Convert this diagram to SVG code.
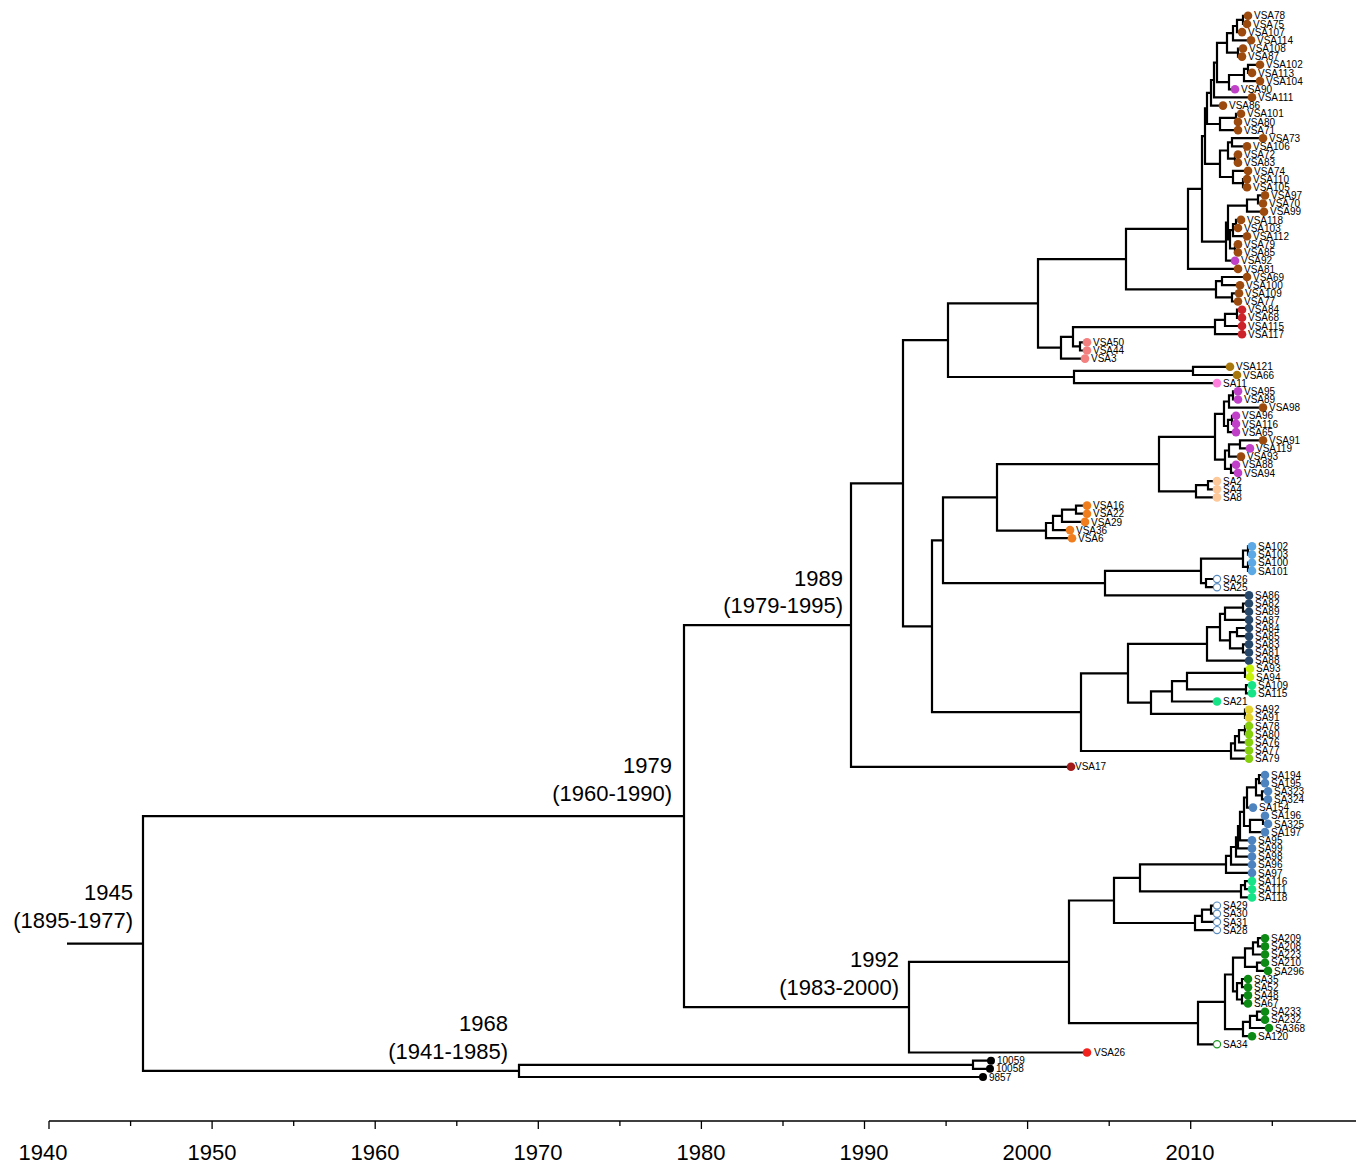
<svg xmlns="http://www.w3.org/2000/svg" width="1358" height="1163" viewBox="0 0 1358 1163">
<style>
.b{fill:none;stroke:#000;stroke-width:2.2;stroke-linejoin:miter}
.ax{fill:none;stroke:#000;stroke-width:1.3}
.tip text{font-family:"Liberation Sans",Arial,sans-serif;font-size:10px;fill:#000}
.nl{font-family:"Liberation Sans",Arial,sans-serif;font-size:22px;fill:#000;text-anchor:end}
.yl{font-family:"Liberation Sans",Arial,sans-serif;font-size:22px;fill:#000;text-anchor:middle}
.br{fill:#9c4a0e}.pu{fill:#c040c8}.rd{fill:#cc2229}.sa{fill:#f47f7f}.gd{fill:#a8780c}.pk{fill:#ff7fdc}
.pe{fill:#fdc89a}.or{fill:#f07e1e}.lb{fill:#5da9e5}.ob{fill:#fff;stroke:#5a8cc0;stroke-width:1.2}
.nv{fill:#27476b}.ly{fill:#c6f20a}.gc{fill:#16e486}.yw{fill:#e2d12e}.lg{fill:#86cf0c}.dr{fill:#a31a1a}
.sb{fill:#4d84bf}.dg{fill:#0c8a14}.og{fill:#fff;stroke:#1e9a24;stroke-width:1.2}.rr{fill:#f2231f}.bk{fill:#000}
</style>
<g id="connectors">
<path class="b" d="M67 943.6H143"/>
<path class="b" d="M1248 15.8H1243V24H1247"/>
<path class="b" d="M1243 19.9H1237V32.1H1242"/>
<path class="b" d="M1237 26H1233V40.3H1251"/>
<path class="b" d="M1243 48.5H1238V56.6H1242"/>
<path class="b" d="M1233 33.2H1227V52.6H1238"/>
<path class="b" d="M1260 64.8H1248V72.9H1252"/>
<path class="b" d="M1248 68.9H1244V81.1H1260"/>
<path class="b" d="M1244 75H1229V89.3H1235"/>
<path class="b" d="M1227 42.9H1217V82.2H1229"/>
<path class="b" d="M1217 62.6H1214V97.4H1252"/>
<path class="b" d="M1214 80H1211V105.6H1223"/>
<path class="b" d="M1241 113.8H1236V121.9H1238"/>
<path class="b" d="M1236 117.9H1220V130.1H1238"/>
<path class="b" d="M1211 92.8H1207V124H1220"/>
<path class="b" d="M1263 138.2H1232V146.4H1247"/>
<path class="b" d="M1238 154.6H1235V162.7H1238"/>
<path class="b" d="M1232 142.3H1228V158.7H1235"/>
<path class="b" d="M1247 179.1H1243V187.2H1247"/>
<path class="b" d="M1248 170.9H1233V183.2H1243"/>
<path class="b" d="M1228 150.5H1220V177H1233"/>
<path class="b" d="M1207 108.4H1205V163.8H1220"/>
<path class="b" d="M1265 195.4H1258V203.5H1263"/>
<path class="b" d="M1258 199.5H1247V211.7H1264"/>
<path class="b" d="M1241 219.9H1236V228H1238"/>
<path class="b" d="M1236 224H1233V236.2H1247"/>
<path class="b" d="M1238 244.4H1235V252.5H1238"/>
<path class="b" d="M1233 230.1H1230V248.5H1235"/>
<path class="b" d="M1247 205.6H1228V239.3H1230"/>
<path class="b" d="M1228 222.5H1226V260.7H1235"/>
<path class="b" d="M1205 136.1H1202V241.6H1226"/>
<path class="b" d="M1202 188.9H1188V268.9H1238"/>
<path class="b" d="M1247 277H1222V285.2H1240"/>
<path class="b" d="M1239 293.3H1232V301.5H1238"/>
<path class="b" d="M1222 281.1H1216V297.4H1232"/>
<path class="b" d="M1188 228.9H1126V289.3H1216"/>
<path class="b" d="M1242 309.7H1237V317.8H1242"/>
<path class="b" d="M1237 313.8H1225V326H1242"/>
<path class="b" d="M1225 319.9H1215V334.2H1242"/>
<path class="b" d="M1087 342.3H1080V350.5H1087"/>
<path class="b" d="M1215 327.1H1073V346.4H1080"/>
<path class="b" d="M1073 336.8H1061V358.6H1085"/>
<path class="b" d="M1126 259.1H1038V347.7H1061"/>
<path class="b" d="M1230 366.8H1193V375H1237"/>
<path class="b" d="M1193 370.9H1074V383.1H1217"/>
<path class="b" d="M1038 303.4H948V377H1074"/>
<path class="b" d="M1238 391.3H1233V399.5H1238"/>
<path class="b" d="M1233 395.4H1229V407.6H1263"/>
<path class="b" d="M1236 415.8H1232V423.9H1236"/>
<path class="b" d="M1232 419.9H1228V432.1H1236"/>
<path class="b" d="M1229 401.5H1224V426H1228"/>
<path class="b" d="M1263 440.3H1240V448.4H1250"/>
<path class="b" d="M1240 444.4H1229V456.6H1241"/>
<path class="b" d="M1236 464.8H1231V472.9H1238"/>
<path class="b" d="M1229 450.5H1225V468.9H1231"/>
<path class="b" d="M1224 413.8H1215V459.7H1225"/>
<path class="b" d="M1217 481.1H1208V489.3H1217"/>
<path class="b" d="M1208 485.2H1196V497.4H1217"/>
<path class="b" d="M1215 436.8H1159V491.3H1196"/>
<path class="b" d="M1087 505.6H1076V513.7H1087"/>
<path class="b" d="M1076 509.7H1062V521.9H1085"/>
<path class="b" d="M1062 515.8H1053V530.1H1070"/>
<path class="b" d="M1053 523H1046V538.2H1072"/>
<path class="b" d="M1159 464.1H997V530.6H1046"/>
<path class="b" d="M1252 546.4H1248V554.6H1252"/>
<path class="b" d="M1252 562.7H1248V570.9H1252"/>
<path class="b" d="M1248 550.5H1243V566.8H1248"/>
<path class="b" d="M1217 579H1206V587.2H1217"/>
<path class="b" d="M1243 558.7H1201V583.1H1206"/>
<path class="b" d="M1201 570.9H1105V595.4H1249"/>
<path class="b" d="M997 497.4H943V583.2H1105"/>
<path class="b" d="M1249 603.5H1243V611.7H1249"/>
<path class="b" d="M1243 607.6H1225V619.9H1249"/>
<path class="b" d="M1249 628H1237V636.2H1249"/>
<path class="b" d="M1249 644.3H1243V652.5H1249"/>
<path class="b" d="M1237 632.1H1230V648.4H1243"/>
<path class="b" d="M1225 613.8H1220V640.3H1230"/>
<path class="b" d="M1220 627.1H1207V660.7H1249"/>
<path class="b" d="M1250 668.8H1245V677H1250"/>
<path class="b" d="M1252 685.2H1246V693.3H1252"/>
<path class="b" d="M1245 672.9H1187V689.3H1246"/>
<path class="b" d="M1187 681.1H1172V701.5H1217"/>
<path class="b" d="M1249 709.7H1245V717.8H1249"/>
<path class="b" d="M1172 691.3H1151V713.8H1245"/>
<path class="b" d="M1207 643.9H1128V702.6H1151"/>
<path class="b" d="M1249 726H1245V734.1H1249"/>
<path class="b" d="M1245 730.1H1239V742.3H1249"/>
<path class="b" d="M1239 736.2H1235V750.5H1249"/>
<path class="b" d="M1235 743.4H1231V758.6H1249"/>
<path class="b" d="M1128 673.3H1081V751H1231"/>
<path class="b" d="M943 540.3H932V712.2H1081"/>
<path class="b" d="M948 340.2H903V626.3H932"/>
<path class="b" d="M903 483.3H851V766.8H1071"/>
<path class="b" d="M1265 775H1259V783.1H1265"/>
<path class="b" d="M1268 791.3H1262V799.4H1268"/>
<path class="b" d="M1259 779.1H1256V795.4H1262"/>
<path class="b" d="M1256 787.3H1247V807.6H1253"/>
<path class="b" d="M1265 815.8H1263V823.9H1268"/>
<path class="b" d="M1263 819.9H1250V832.1H1265"/>
<path class="b" d="M1247 797.5H1244V826H1250"/>
<path class="b" d="M1244 811.8H1240V840.3H1252"/>
<path class="b" d="M1240 826.1H1238V848.4H1252"/>
<path class="b" d="M1238 837.3H1236V856.6H1252"/>
<path class="b" d="M1236 847H1231V864.7H1252"/>
<path class="b" d="M1231 855.9H1226V872.9H1252"/>
<path class="b" d="M1252 881.1H1245V889.2H1252"/>
<path class="b" d="M1245 885.2H1241V897.4H1252"/>
<path class="b" d="M1226 864.4H1140V891.3H1241"/>
<path class="b" d="M1217 905.6H1211V913.7H1217"/>
<path class="b" d="M1211 909.7H1202V921.9H1217"/>
<path class="b" d="M1202 915.8H1195V930.1H1217"/>
<path class="b" d="M1140 877.9H1114V923H1195"/>
<path class="b" d="M1265 938.2H1258V946.4H1265"/>
<path class="b" d="M1258 942.3H1253V954.5H1265"/>
<path class="b" d="M1265 962.7H1257V970.9H1268"/>
<path class="b" d="M1253 948.4H1245V966.8H1257"/>
<path class="b" d="M1248 979H1242V987.2H1248"/>
<path class="b" d="M1248 995.4H1242V1003.5H1248"/>
<path class="b" d="M1242 983.1H1237V999.5H1242"/>
<path class="b" d="M1245 957.6H1233V991.3H1237"/>
<path class="b" d="M1265 1011.7H1257V1019.8H1265"/>
<path class="b" d="M1257 1015.8H1250V1028H1269"/>
<path class="b" d="M1250 1021.9H1243V1036.2H1252"/>
<path class="b" d="M1233 974.5H1225V1029.1H1243"/>
<path class="b" d="M1225 1001.8H1198V1044.3H1217"/>
<path class="b" d="M1114 900.5H1069V1023.1H1198"/>
<path class="b" d="M1069 961.8H909V1052.5H1087"/>
<path class="b" d="M851 625.1H684V1007.2H909"/>
<path class="b" d="M991 1060.7H973V1068.8H990"/>
<path class="b" d="M973 1064.8H519V1077H983"/>
<path class="b" d="M684 816.2H143V1070.9H519"/>
</g>
<g id="node-labels">
<text class="nl" x="133" y="900">1945</text><text class="nl" x="133" y="928">(1895-1977)</text>
<text class="nl" x="672" y="773">1979</text><text class="nl" x="672" y="801">(1960-1990)</text>
<text class="nl" x="843" y="586">1989</text><text class="nl" x="843" y="613">(1979-1995)</text>
<text class="nl" x="899" y="967">1992</text><text class="nl" x="899" y="995">(1983-2000)</text>
<text class="nl" x="508" y="1031">1968</text><text class="nl" x="508" y="1059">(1941-1985)</text>
</g>
<g id="axis">
<path class="ax" d="M49 1121H1356M49 1121v8M212.1 1121v8M375.2 1121v8M538.3 1121v8M701.4 1121v8M864.5 1121v8M1027.6 1121v8M1190.7 1121v8M130.6 1121v5M293.7 1121v5M456.8 1121v5M619.9 1121v5M783 1121v5M946.1 1121v5M1109.2 1121v5M1272.3 1121v5"/>
<text class="yl" x="43" y="1160">1940</text><text class="yl" x="212" y="1160">1950</text><text class="yl" x="375" y="1160">1960</text><text class="yl" x="538" y="1160">1970</text><text class="yl" x="701" y="1160">1980</text><text class="yl" x="864" y="1160">1990</text><text class="yl" x="1027" y="1160">2000</text><text class="yl" x="1190" y="1160">2010</text>
</g>
<g id="tips">
<g class="tip" id="t-VSA78"><circle class="br" cx="1248" cy="15.8" r="4.3"/><text x="1254" y="19.4">VSA78</text></g>
<g class="tip" id="t-VSA75"><circle class="br" cx="1247" cy="24" r="4.3"/><text x="1253" y="27.6">VSA75</text></g>
<g class="tip" id="t-VSA107"><circle class="br" cx="1242" cy="32.1" r="4.3"/><text x="1248" y="35.7">VSA107</text></g>
<g class="tip" id="t-VSA114"><circle class="br" cx="1251" cy="40.3" r="4.3"/><text x="1257" y="43.9">VSA114</text></g>
<g class="tip" id="t-VSA108"><circle class="br" cx="1243" cy="48.5" r="4.3"/><text x="1249" y="52.1">VSA108</text></g>
<g class="tip" id="t-VSA87"><circle class="br" cx="1242" cy="56.6" r="4.3"/><text x="1248" y="60.2">VSA87</text></g>
<g class="tip" id="t-VSA102"><circle class="br" cx="1260" cy="64.8" r="4.3"/><text x="1266" y="68.4">VSA102</text></g>
<g class="tip" id="t-VSA113"><circle class="br" cx="1252" cy="72.9" r="4.3"/><text x="1258" y="76.5">VSA113</text></g>
<g class="tip" id="t-VSA104"><circle class="br" cx="1260" cy="81.1" r="4.3"/><text x="1266" y="84.7">VSA104</text></g>
<g class="tip" id="t-VSA90"><circle class="pu" cx="1235" cy="89.3" r="4.3"/><text x="1241" y="92.9">VSA90</text></g>
<g class="tip" id="t-VSA111"><circle class="br" cx="1252" cy="97.4" r="4.3"/><text x="1258" y="101">VSA111</text></g>
<g class="tip" id="t-VSA86"><circle class="br" cx="1223" cy="105.6" r="4.3"/><text x="1229" y="109.2">VSA86</text></g>
<g class="tip" id="t-VSA101"><circle class="br" cx="1241" cy="113.8" r="4.3"/><text x="1247" y="117.4">VSA101</text></g>
<g class="tip" id="t-VSA80"><circle class="br" cx="1238" cy="121.9" r="4.3"/><text x="1244" y="125.5">VSA80</text></g>
<g class="tip" id="t-VSA71"><circle class="br" cx="1238" cy="130.1" r="4.3"/><text x="1244" y="133.7">VSA71</text></g>
<g class="tip" id="t-VSA73"><circle class="br" cx="1263" cy="138.2" r="4.3"/><text x="1269" y="141.8">VSA73</text></g>
<g class="tip" id="t-VSA106"><circle class="br" cx="1247" cy="146.4" r="4.3"/><text x="1253" y="150">VSA106</text></g>
<g class="tip" id="t-VSA72"><circle class="br" cx="1238" cy="154.6" r="4.3"/><text x="1244" y="158.2">VSA72</text></g>
<g class="tip" id="t-VSA83"><circle class="br" cx="1238" cy="162.7" r="4.3"/><text x="1244" y="166.3">VSA83</text></g>
<g class="tip" id="t-VSA74"><circle class="br" cx="1248" cy="170.9" r="4.3"/><text x="1254" y="174.5">VSA74</text></g>
<g class="tip" id="t-VSA110"><circle class="br" cx="1247" cy="179.1" r="4.3"/><text x="1253" y="182.7">VSA110</text></g>
<g class="tip" id="t-VSA105"><circle class="br" cx="1247" cy="187.2" r="4.3"/><text x="1253" y="190.8">VSA105</text></g>
<g class="tip" id="t-VSA97"><circle class="br" cx="1265" cy="195.4" r="4.3"/><text x="1271" y="199">VSA97</text></g>
<g class="tip" id="t-VSA70"><circle class="br" cx="1263" cy="203.5" r="4.3"/><text x="1269" y="207.1">VSA70</text></g>
<g class="tip" id="t-VSA99"><circle class="br" cx="1264" cy="211.7" r="4.3"/><text x="1270" y="215.3">VSA99</text></g>
<g class="tip" id="t-VSA118"><circle class="br" cx="1241" cy="219.9" r="4.3"/><text x="1247" y="223.5">VSA118</text></g>
<g class="tip" id="t-VSA103"><circle class="br" cx="1238" cy="228" r="4.3"/><text x="1244" y="231.6">VSA103</text></g>
<g class="tip" id="t-VSA112"><circle class="br" cx="1247" cy="236.2" r="4.3"/><text x="1253" y="239.8">VSA112</text></g>
<g class="tip" id="t-VSA79"><circle class="br" cx="1238" cy="244.4" r="4.3"/><text x="1244" y="248">VSA79</text></g>
<g class="tip" id="t-VSA85"><circle class="br" cx="1238" cy="252.5" r="4.3"/><text x="1244" y="256.1">VSA85</text></g>
<g class="tip" id="t-VSA92"><circle class="pu" cx="1235" cy="260.7" r="4.3"/><text x="1241" y="264.3">VSA92</text></g>
<g class="tip" id="t-VSA81"><circle class="br" cx="1238" cy="268.9" r="4.3"/><text x="1244" y="272.5">VSA81</text></g>
<g class="tip" id="t-VSA69"><circle class="br" cx="1247" cy="277" r="4.3"/><text x="1253" y="280.6">VSA69</text></g>
<g class="tip" id="t-VSA100"><circle class="br" cx="1240" cy="285.2" r="4.3"/><text x="1246" y="288.8">VSA100</text></g>
<g class="tip" id="t-VSA109"><circle class="br" cx="1239" cy="293.3" r="4.3"/><text x="1245" y="296.9">VSA109</text></g>
<g class="tip" id="t-VSA77"><circle class="br" cx="1238" cy="301.5" r="4.3"/><text x="1244" y="305.1">VSA77</text></g>
<g class="tip" id="t-VSA84"><circle class="rd" cx="1242" cy="309.7" r="4.3"/><text x="1248" y="313.3">VSA84</text></g>
<g class="tip" id="t-VSA68"><circle class="rd" cx="1242" cy="317.8" r="4.3"/><text x="1248" y="321.4">VSA68</text></g>
<g class="tip" id="t-VSA115"><circle class="rd" cx="1242" cy="326" r="4.3"/><text x="1248" y="329.6">VSA115</text></g>
<g class="tip" id="t-VSA117"><circle class="rd" cx="1242" cy="334.2" r="4.3"/><text x="1248" y="337.8">VSA117</text></g>
<g class="tip" id="t-VSA50"><circle class="sa" cx="1087" cy="342.3" r="4.3"/><text x="1093" y="345.9">VSA50</text></g>
<g class="tip" id="t-VSA44"><circle class="sa" cx="1087" cy="350.5" r="4.3"/><text x="1093" y="354.1">VSA44</text></g>
<g class="tip" id="t-VSA3"><circle class="sa" cx="1085" cy="358.6" r="4.3"/><text x="1091" y="362.2">VSA3</text></g>
<g class="tip" id="t-VSA121"><circle class="gd" cx="1230" cy="366.8" r="4.3"/><text x="1236" y="370.4">VSA121</text></g>
<g class="tip" id="t-VSA66"><circle class="gd" cx="1237" cy="375" r="4.3"/><text x="1243" y="378.6">VSA66</text></g>
<g class="tip" id="t-SA11"><circle class="pk" cx="1217" cy="383.1" r="4.3"/><text x="1223" y="386.7">SA11</text></g>
<g class="tip" id="t-VSA95"><circle class="pu" cx="1238" cy="391.3" r="4.3"/><text x="1244" y="394.9">VSA95</text></g>
<g class="tip" id="t-VSA89"><circle class="pu" cx="1238" cy="399.5" r="4.3"/><text x="1244" y="403.1">VSA89</text></g>
<g class="tip" id="t-VSA98"><circle class="br" cx="1263" cy="407.6" r="4.3"/><text x="1269" y="411.2">VSA98</text></g>
<g class="tip" id="t-VSA96"><circle class="pu" cx="1236" cy="415.8" r="4.3"/><text x="1242" y="419.4">VSA96</text></g>
<g class="tip" id="t-VSA116"><circle class="pu" cx="1236" cy="423.9" r="4.3"/><text x="1242" y="427.5">VSA116</text></g>
<g class="tip" id="t-VSA65"><circle class="pu" cx="1236" cy="432.1" r="4.3"/><text x="1242" y="435.7">VSA65</text></g>
<g class="tip" id="t-VSA91"><circle class="br" cx="1263" cy="440.3" r="4.3"/><text x="1269" y="443.9">VSA91</text></g>
<g class="tip" id="t-VSA119"><circle class="pu" cx="1250" cy="448.4" r="4.3"/><text x="1256" y="452">VSA119</text></g>
<g class="tip" id="t-VSA93"><circle class="br" cx="1241" cy="456.6" r="4.3"/><text x="1247" y="460.2">VSA93</text></g>
<g class="tip" id="t-VSA88"><circle class="pu" cx="1236" cy="464.8" r="4.3"/><text x="1242" y="468.4">VSA88</text></g>
<g class="tip" id="t-VSA94"><circle class="pu" cx="1238" cy="472.9" r="4.3"/><text x="1244" y="476.5">VSA94</text></g>
<g class="tip" id="t-SA2"><circle class="pe" cx="1217" cy="481.1" r="4.3"/><text x="1223" y="484.7">SA2</text></g>
<g class="tip" id="t-SA4"><circle class="pe" cx="1217" cy="489.3" r="4.3"/><text x="1223" y="492.9">SA4</text></g>
<g class="tip" id="t-SA8"><circle class="pe" cx="1217" cy="497.4" r="4.3"/><text x="1223" y="501">SA8</text></g>
<g class="tip" id="t-VSA16"><circle class="or" cx="1087" cy="505.6" r="4.3"/><text x="1093" y="509.2">VSA16</text></g>
<g class="tip" id="t-VSA22"><circle class="or" cx="1087" cy="513.7" r="4.3"/><text x="1093" y="517.3">VSA22</text></g>
<g class="tip" id="t-VSA29"><circle class="or" cx="1085" cy="521.9" r="4.3"/><text x="1091" y="525.5">VSA29</text></g>
<g class="tip" id="t-VSA36"><circle class="or" cx="1070" cy="530.1" r="4.3"/><text x="1076" y="533.7">VSA36</text></g>
<g class="tip" id="t-VSA6"><circle class="or" cx="1072" cy="538.2" r="4.3"/><text x="1078" y="541.8">VSA6</text></g>
<g class="tip" id="t-SA102"><circle class="lb" cx="1252" cy="546.4" r="4.3"/><text x="1258" y="550">SA102</text></g>
<g class="tip" id="t-SA103"><circle class="lb" cx="1252" cy="554.6" r="4.3"/><text x="1258" y="558.2">SA103</text></g>
<g class="tip" id="t-SA100"><circle class="lb" cx="1252" cy="562.7" r="4.3"/><text x="1258" y="566.3">SA100</text></g>
<g class="tip" id="t-SA101"><circle class="lb" cx="1252" cy="570.9" r="4.3"/><text x="1258" y="574.5">SA101</text></g>
<g class="tip" id="t-SA26"><circle class="ob" cx="1217" cy="579" r="3.6"/><text x="1223" y="582.6">SA26</text></g>
<g class="tip" id="t-SA25"><circle class="ob" cx="1217" cy="587.2" r="3.6"/><text x="1223" y="590.8">SA25</text></g>
<g class="tip" id="t-SA86"><circle class="nv" cx="1249" cy="595.4" r="4.3"/><text x="1255" y="599">SA86</text></g>
<g class="tip" id="t-SA82"><circle class="nv" cx="1249" cy="603.5" r="4.3"/><text x="1255" y="607.1">SA82</text></g>
<g class="tip" id="t-SA89"><circle class="nv" cx="1249" cy="611.7" r="4.3"/><text x="1255" y="615.3">SA89</text></g>
<g class="tip" id="t-SA87"><circle class="nv" cx="1249" cy="619.9" r="4.3"/><text x="1255" y="623.5">SA87</text></g>
<g class="tip" id="t-SA84"><circle class="nv" cx="1249" cy="628" r="4.3"/><text x="1255" y="631.6">SA84</text></g>
<g class="tip" id="t-SA85"><circle class="nv" cx="1249" cy="636.2" r="4.3"/><text x="1255" y="639.8">SA85</text></g>
<g class="tip" id="t-SA83"><circle class="nv" cx="1249" cy="644.3" r="4.3"/><text x="1255" y="647.9">SA83</text></g>
<g class="tip" id="t-SA81"><circle class="nv" cx="1249" cy="652.5" r="4.3"/><text x="1255" y="656.1">SA81</text></g>
<g class="tip" id="t-SA88"><circle class="nv" cx="1249" cy="660.7" r="4.3"/><text x="1255" y="664.3">SA88</text></g>
<g class="tip" id="t-SA93"><circle class="ly" cx="1250" cy="668.8" r="4.3"/><text x="1256" y="672.4">SA93</text></g>
<g class="tip" id="t-SA94"><circle class="ly" cx="1250" cy="677" r="4.3"/><text x="1256" y="680.6">SA94</text></g>
<g class="tip" id="t-SA109"><circle class="gc" cx="1252" cy="685.2" r="4.3"/><text x="1258" y="688.8">SA109</text></g>
<g class="tip" id="t-SA115"><circle class="gc" cx="1252" cy="693.3" r="4.3"/><text x="1258" y="696.9">SA115</text></g>
<g class="tip" id="t-SA21"><circle class="gc" cx="1217" cy="701.5" r="4.3"/><text x="1223" y="705.1">SA21</text></g>
<g class="tip" id="t-SA92"><circle class="yw" cx="1249" cy="709.7" r="4.3"/><text x="1255" y="713.3">SA92</text></g>
<g class="tip" id="t-SA91"><circle class="yw" cx="1249" cy="717.8" r="4.3"/><text x="1255" y="721.4">SA91</text></g>
<g class="tip" id="t-SA78"><circle class="lg" cx="1249" cy="726" r="4.3"/><text x="1255" y="729.6">SA78</text></g>
<g class="tip" id="t-SA80"><circle class="lg" cx="1249" cy="734.1" r="4.3"/><text x="1255" y="737.7">SA80</text></g>
<g class="tip" id="t-SA76"><circle class="lg" cx="1249" cy="742.3" r="4.3"/><text x="1255" y="745.9">SA76</text></g>
<g class="tip" id="t-SA77"><circle class="lg" cx="1249" cy="750.5" r="4.3"/><text x="1255" y="754.1">SA77</text></g>
<g class="tip" id="t-SA79"><circle class="lg" cx="1249" cy="758.6" r="4.3"/><text x="1255" y="762.2">SA79</text></g>
<g class="tip" id="t-VSA17"><circle class="dr" cx="1071" cy="766.8" r="4.3"/><text x="1075" y="770.4">VSA17</text></g>
<g class="tip" id="t-SA194"><circle class="sb" cx="1265" cy="775" r="4.3"/><text x="1271" y="778.6">SA194</text></g>
<g class="tip" id="t-SA195"><circle class="sb" cx="1265" cy="783.1" r="4.3"/><text x="1271" y="786.7">SA195</text></g>
<g class="tip" id="t-SA323"><circle class="sb" cx="1268" cy="791.3" r="4.3"/><text x="1274" y="794.9">SA323</text></g>
<g class="tip" id="t-SA324"><circle class="sb" cx="1268" cy="799.4" r="4.3"/><text x="1274" y="803">SA324</text></g>
<g class="tip" id="t-SA154"><circle class="sb" cx="1253" cy="807.6" r="4.3"/><text x="1259" y="811.2">SA154</text></g>
<g class="tip" id="t-SA196"><circle class="sb" cx="1265" cy="815.8" r="4.3"/><text x="1271" y="819.4">SA196</text></g>
<g class="tip" id="t-SA325"><circle class="sb" cx="1268" cy="823.9" r="4.3"/><text x="1274" y="827.5">SA325</text></g>
<g class="tip" id="t-SA197"><circle class="sb" cx="1265" cy="832.1" r="4.3"/><text x="1271" y="835.7">SA197</text></g>
<g class="tip" id="t-SA95"><circle class="sb" cx="1252" cy="840.3" r="4.3"/><text x="1258" y="843.9">SA95</text></g>
<g class="tip" id="t-SA99"><circle class="sb" cx="1252" cy="848.4" r="4.3"/><text x="1258" y="852">SA99</text></g>
<g class="tip" id="t-SA98"><circle class="sb" cx="1252" cy="856.6" r="4.3"/><text x="1258" y="860.2">SA98</text></g>
<g class="tip" id="t-SA96"><circle class="sb" cx="1252" cy="864.7" r="4.3"/><text x="1258" y="868.3">SA96</text></g>
<g class="tip" id="t-SA97"><circle class="sb" cx="1252" cy="872.9" r="4.3"/><text x="1258" y="876.5">SA97</text></g>
<g class="tip" id="t-SA116"><circle class="gc" cx="1252" cy="881.1" r="4.3"/><text x="1258" y="884.7">SA116</text></g>
<g class="tip" id="t-SA111"><circle class="gc" cx="1252" cy="889.2" r="4.3"/><text x="1258" y="892.8">SA111</text></g>
<g class="tip" id="t-SA118"><circle class="gc" cx="1252" cy="897.4" r="4.3"/><text x="1258" y="901">SA118</text></g>
<g class="tip" id="t-SA29"><circle class="ob" cx="1217" cy="905.6" r="3.6"/><text x="1223" y="909.2">SA29</text></g>
<g class="tip" id="t-SA30"><circle class="ob" cx="1217" cy="913.7" r="3.6"/><text x="1223" y="917.3">SA30</text></g>
<g class="tip" id="t-SA31"><circle class="ob" cx="1217" cy="921.9" r="3.6"/><text x="1223" y="925.5">SA31</text></g>
<g class="tip" id="t-SA28"><circle class="ob" cx="1217" cy="930.1" r="3.6"/><text x="1223" y="933.7">SA28</text></g>
<g class="tip" id="t-SA209"><circle class="dg" cx="1265" cy="938.2" r="4.3"/><text x="1271" y="941.8">SA209</text></g>
<g class="tip" id="t-SA208"><circle class="dg" cx="1265" cy="946.4" r="4.3"/><text x="1271" y="950">SA208</text></g>
<g class="tip" id="t-SA223"><circle class="dg" cx="1265" cy="954.5" r="4.3"/><text x="1271" y="958.1">SA223</text></g>
<g class="tip" id="t-SA210"><circle class="dg" cx="1265" cy="962.7" r="4.3"/><text x="1271" y="966.3">SA210</text></g>
<g class="tip" id="t-SA296"><circle class="dg" cx="1268" cy="970.9" r="4.3"/><text x="1274" y="974.5">SA296</text></g>
<g class="tip" id="t-SA35"><circle class="dg" cx="1248" cy="979" r="4.3"/><text x="1254" y="982.6">SA35</text></g>
<g class="tip" id="t-SA52"><circle class="dg" cx="1248" cy="987.2" r="4.3"/><text x="1254" y="990.8">SA52</text></g>
<g class="tip" id="t-SA48"><circle class="dg" cx="1248" cy="995.4" r="4.3"/><text x="1254" y="999">SA48</text></g>
<g class="tip" id="t-SA67"><circle class="dg" cx="1248" cy="1003.5" r="4.3"/><text x="1254" y="1007.1">SA67</text></g>
<g class="tip" id="t-SA233"><circle class="dg" cx="1265" cy="1011.7" r="4.3"/><text x="1271" y="1015.3">SA233</text></g>
<g class="tip" id="t-SA232"><circle class="dg" cx="1265" cy="1019.8" r="4.3"/><text x="1271" y="1023.4">SA232</text></g>
<g class="tip" id="t-SA368"><circle class="dg" cx="1269" cy="1028" r="4.3"/><text x="1275" y="1031.6">SA368</text></g>
<g class="tip" id="t-SA120"><circle class="dg" cx="1252" cy="1036.2" r="4.3"/><text x="1258" y="1039.8">SA120</text></g>
<g class="tip" id="t-SA34"><circle class="og" cx="1217" cy="1044.3" r="3.6"/><text x="1223" y="1047.9">SA34</text></g>
<g class="tip" id="t-VSA26"><circle class="rr" cx="1087" cy="1052.5" r="4.3"/><text x="1094" y="1056.1">VSA26</text></g>
<g class="tip" id="t-10059"><circle class="bk" cx="991" cy="1060.7" r="4"/><text x="997" y="1064.3">10059</text></g>
<g class="tip" id="t-10058"><circle class="bk" cx="990" cy="1068.8" r="4"/><text x="996" y="1072.4">10058</text></g>
<g class="tip" id="t-9857"><circle class="bk" cx="983" cy="1077" r="4"/><text x="989" y="1080.6">9857</text></g>
</g>
</svg>
